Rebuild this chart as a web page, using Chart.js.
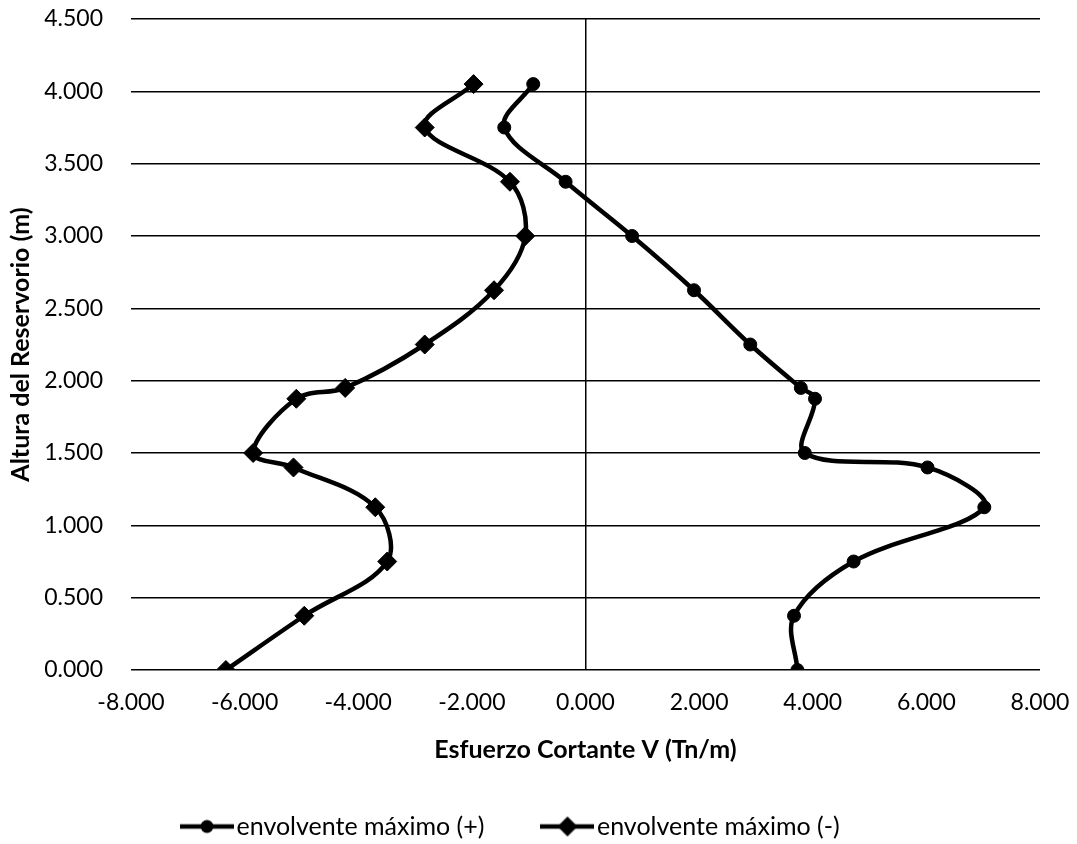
<!DOCTYPE html>
<html>
<head>
<meta charset="utf-8">
<script src="https://cdn.jsdelivr.net/npm/chart.js@4/dist/chart.umd.min.js"></script>
<style>
  html, body { margin: 0; padding: 0; background: #fff; }
  #wrap { width: 1077px; height: 844px; }
</style>
</head>
<body>
<div id="wrap"><canvas id="cortante"></canvas></div>
<script>
// alturas del reservorio (m)
var alturas = [0, 0.375, 0.75, 1.125, 1.40, 1.5, 1.875, 1.95, 2.25, 2.625, 3.0, 3.375, 3.75, 4.05];
// esfuerzo cortante V (Tn/m)
var envolventeMax = [3.73, 3.67, 4.72, 7.02, 6.02, 3.86, 4.04, 3.79, 2.90, 1.91, 0.82, -0.35, -1.43, -0.92];
var envolventeMin = [-6.33, -4.95, -3.49, -3.70, -5.14, -5.85, -5.09, -4.23, -2.83, -1.61, -1.06, -1.33, -2.83, -1.97];
var etiquetas = ['envolvente máximo (+)', 'envolvente máximo (-)'];

function puntos(vals){
    return vals.map(function(v, i){ return {x: v, y: alturas[i]}; });
}

// icono de leyenda: linea con marcador
function iconoLeyenda(forma){
    var c = document.createElement('canvas');
    c.width = 54; c.height = 24;
    var g = c.getContext('2d');
    g.strokeStyle = '#000'; g.fillStyle = '#000'; g.lineWidth = 4.5;
    g.beginPath(); g.moveTo(0, 12); g.lineTo(54, 12); g.stroke();
    g.beginPath();
    if (forma == 'circle'){
        g.arc(27, 12, 6.5, 0, Math.PI * 2);
    } else {
        g.moveTo(27, 2); g.lineTo(37, 12); g.lineTo(27, 22); g.lineTo(17, 12); g.closePath();
    }
    g.fill();
    return c;
}

var fuente = "Lato, 'DejaVu Sans', sans-serif";
var padLeyenda = 66;

// coloca la leyenda como en el grafico original
var moverLeyenda = {
    id: 'moverLeyenda',
    afterLayout: function(chart){
        var lg = chart.legend;
        lg.left = 190 - padLeyenda;
        lg.right = chart.width;
        lg.top = 829 - padLeyenda - 15;
        lg.bottom = chart.height;
    }
};

var ctx = document.getElementById('cortante').getContext('2d');
var myChart = new Chart(ctx, {
    type: 'scatter',
    data: {
        datasets: [{
            label: etiquetas[0],
            data: puntos(envolventeMax),
            showLine: true,
            tension: 0.35,
            borderColor: '#000',
            borderWidth: 4.5,
            pointStyle: 'circle',
            pointRadius: 6.5,
            pointBackgroundColor: '#000',
            pointBorderColor: '#000',
            pointBorderWidth: 1
        }, {
            label: etiquetas[1],
            data: puntos(envolventeMin),
            showLine: true,
            tension: 0.35,
            borderColor: '#000',
            borderWidth: 4.5,
            pointStyle: 'rectRot',
            pointRadius: 9.5,
            pointBackgroundColor: '#000',
            pointBorderColor: '#000',
            pointBorderWidth: 1
        }]
    },
    options: {
        responsive: true,
        maintainAspectRatio: false,
        animation: false,
        layout: {
            padding: {left: 6, right: 37, top: 19, bottom: 37}
        },
        scales: {
            x: {
                type: 'linear',
                min: -8,
                max: 8,
                border: {display: false},
                grid: {
                    drawTicks: false,
                    lineWidth: 1.5,
                    color: function(c){ return c.tick && c.tick.value === 0 ? '#000' : 'rgba(0,0,0,0)'; }
                },
                ticks: {
                    stepSize: 2,
                    padding: 19,
                    color: '#000',
                    font: {family: fuente, size: 23},
                    callback: function(v){ return v.toFixed(3); }
                },
                title: {
                    display: true,
                    text: 'Esfuerzo Cortante V (Tn/m)',
                    color: '#000',
                    font: {family: fuente, size: 25, weight: 'bold'},
                    padding: {top: 10, bottom: 0}
                },
                afterFit: function(s){
                    s.height = 95;
                    s.paddingLeft = 0;
                    s.paddingRight = 0;
                }
            },
            y: {
                type: 'linear',
                min: 0,
                max: 4.5,
                border: {display: false},
                grid: {
                    drawTicks: false,
                    lineWidth: 1.5,
                    color: '#000'
                },
                ticks: {
                    stepSize: 0.5,
                    padding: 28,
                    color: '#000',
                    font: {family: fuente, size: 23},
                    callback: function(v){ return v.toFixed(3); }
                },
                title: {
                    display: true,
                    text: 'Altura del Reservorio (m)',
                    color: '#000',
                    font: {family: fuente, size: 25, weight: 'bold'},
                    padding: {top: 0, bottom: 0}
                },
                afterFit: function(s){
                    s.width = 125;
                    s.paddingTop = 0;
                    s.paddingBottom = 0;
                }
            }
        },
        plugins: {
            legend: {
                display: true,
                position: 'bottom',
                align: 'start',
                maxHeight: 42,
                labels: {
                    usePointStyle: true,
                    pointStyleWidth: 34,
                    padding: padLeyenda,
                    color: '#000',
                    font: {family: fuente, size: 25},
                    generateLabels: function(chart){
                        return etiquetas.map(function(t, i){
                            return {
                                text: t,
                                datasetIndex: i,
                                pointStyle: iconoLeyenda(i == 0 ? 'circle' : 'diamond'),
                                fillStyle: '#000',
                                strokeStyle: '#000',
                                lineWidth: 0,
                                hidden: false
                            };
                        });
                    }
                }
            },
            tooltip: {enabled: false}
        }
    },
    plugins: [moverLeyenda]
});
</script>
</body>
</html>
